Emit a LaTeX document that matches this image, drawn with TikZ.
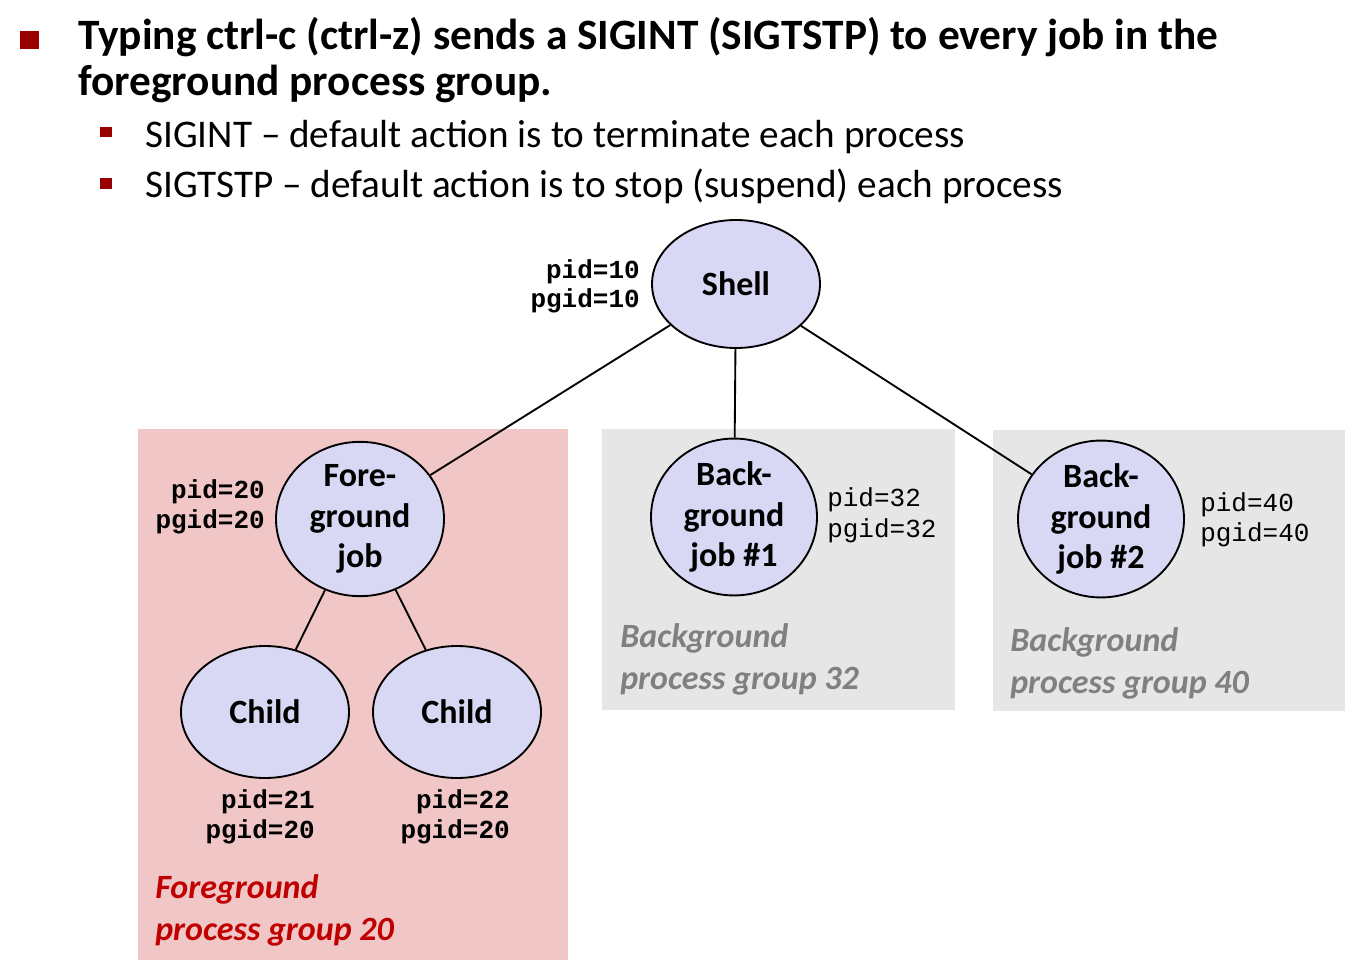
\documentclass[tikz,border=0pt]{standalone}
\usepackage{fontspec}
\setmainfont{Carlito}
\newfontfamily\monof{Liberation Mono}
\usetikzlibrary{shapes.geometric}
\definecolor{bulletred}{RGB}{153,0,0}
\definecolor{fgred}{RGB}{192,0,0}
\definecolor{pinkbg}{RGB}{241,198,198}
\definecolor{graybg}{RGB}{230,230,230}
\definecolor{grouptxt}{RGB}{128,128,128}
\definecolor{procfill}{RGB}{216,216,244}
\tikzset{
  proc/.style={ellipse, draw=black, line width=1.4pt, fill=procfill, inner sep=0pt,
    align=center, font=\fontsize{25.5}{30.5}\selectfont\bfseries},
  ids/.style={font=\fontsize{19.5}{22}\selectfont\monof\bfseries, inner sep=0pt},
  idsr/.style={font=\fontsize{19.5}{22}\selectfont\monof, inner sep=0pt},
  grp/.style={font=\fontsize{25.5}{31.5}\selectfont\bfseries\itshape, inner sep=0pt, align=left, anchor=base west},
  link/.style={line width=1.4pt},
  txt/.style={inner sep=0pt, anchor=base west},
  title/.style={txt, font=\fontsize{32.5}{36}\selectfont\bfseries},
  sub/.style={txt, font=\fontsize{29.4}{34}\selectfont}
}
\begin{document}
\begin{tikzpicture}[x=0.75pt,y=-0.75pt]
\useasboundingbox (0,0) rectangle (1359,960);
% group backgrounds
\fill[pinkbg] (138,429) rectangle (568,960);
\fill[graybg] (602,429) rectangle (955,710);
\fill[graybg] (993,430) rectangle (1345,711);
% bullets and header text
\fill[bulletred] (20,31) rectangle (39,49);
\node[title] (t1) at (78,49) {Typing ctrl-c (ctrl-z) sends a SIGINT (SIGTSTP) to every job in the};
\node[title] (t2) at (78,95) {foreground process group.};
\fill[bulletred] (100,127) rectangle (112,137);
\node[sub] (s1) at (145,147) {SIGINT -- default action is to terminate each process};
\fill[bulletred] (100,178) rectangle (112,189);
\node[sub] (s2) at (145,197) {SIGTSTP -- default action is to stop (suspend) each process};
% processes
\node[proc, minimum width=126pt, minimum height=96pt] (shell) at (736,284) {Shell};
\node[proc, minimum width=126pt, minimum height=112.5pt] (fg) at (360,519) {Fore-\\ground\\job};
\node[proc, minimum width=126pt, minimum height=99pt] (c1) at (265,712) {Child};
\node[proc, minimum width=126pt, minimum height=99pt] (c2) at (457,712) {Child};
\node[proc, minimum width=124.5pt, minimum height=111pt] (bg1) at (734,517) {Back-\\ground\\job \#1};
\node[proc, minimum width=124.5pt, minimum height=112.5pt] (bg2) at (1101,519) {Back-\\ground\\job \#2};
% connectors
\draw[link] (shell) -- (fg);
\draw[link] (shell) -- (bg1);
\draw[link] (shell) -- (bg2);
\draw[link] (fg) -- (c1);
\draw[link] (fg) -- (c2);
% ids
\node[ids, anchor=base east] (p10) at (640,278) {pid=10};
\node[ids, anchor=base east] (g10) at (640,307) {pgid=10};
\node[ids, anchor=base east] (p20) at (265,498) {pid=20};
\node[ids, anchor=base east] (g20) at (265,528) {pgid=20};
\node[ids, anchor=base east] (p21) at (315,808) {pid=21};
\node[ids, anchor=base east] (g21) at (315,838) {pgid=20};
\node[ids, anchor=base east] (p22) at (510,808) {pid=22};
\node[ids, anchor=base east] (g22) at (510,838) {pgid=20};
\node[idsr, anchor=base west] (p32) at (827,506) {pid=32};
\node[idsr, anchor=base west] (g32) at (827,537) {pgid=32};
\node[idsr, anchor=base west] (p40) at (1200,511) {pid=40};
\node[idsr, anchor=base west] (g40) at (1200,541) {pgid=40};
% group labels (anchor = baseline of the last line)
\node[grp, text=fgred] (l20) at (155,940) {Foreground\\process group 20};
\node[grp, text=grouptxt] (l32) at (620,689) {Background\\process group 32};
\node[grp, text=grouptxt] (l40) at (1010,693) {Background\\process group 40};
\end{tikzpicture}
\end{document}
